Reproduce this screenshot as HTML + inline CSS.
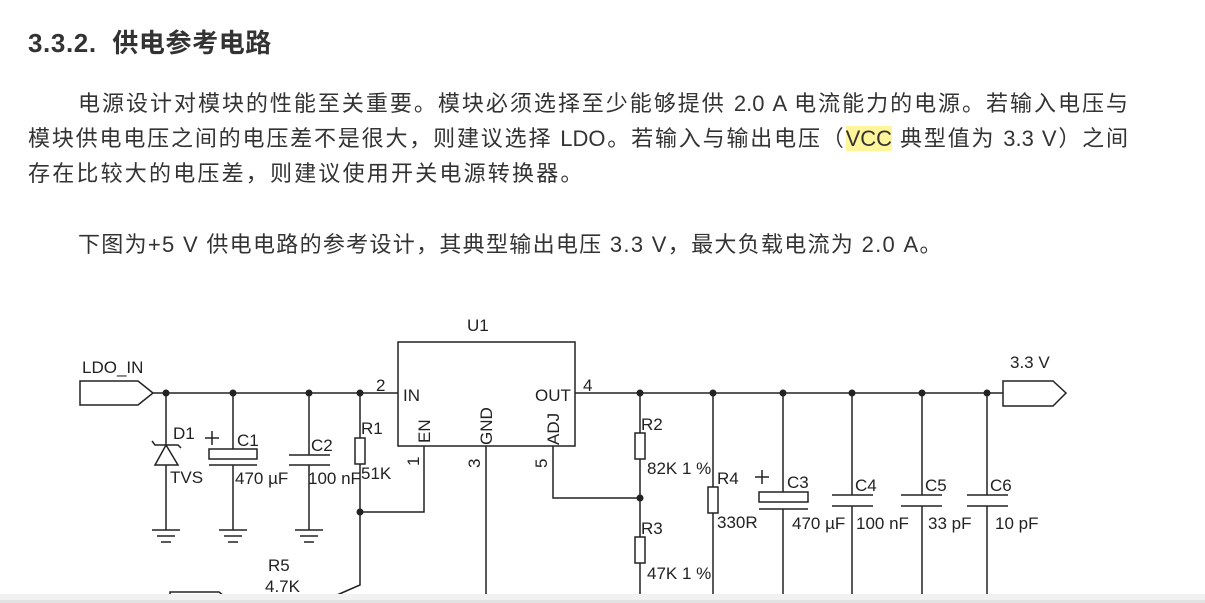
<!DOCTYPE html>
<html><head><meta charset="utf-8"><style>
html,body{margin:0;padding:0;background:#fff;width:1205px;height:603px;overflow:hidden;position:relative}
.t{position:absolute;font-family:"Liberation Sans","Noto Sans CJK SC",sans-serif;color:#333;white-space:nowrap}
.p{font-size:22px;line-height:26px}
.j{text-align:justify;text-align-last:justify;white-space:normal}
.hl{background:#fff59a}
svg{position:absolute;left:0;top:0}
svg text{font-family:"Liberation Sans",sans-serif;font-size:17px;fill:#222}
</style></head><body>
<div class="t" style="left:28px;top:28px;font-size:26px;font-weight:bold;color:#333;line-height:31px;letter-spacing:0.6px">3.3.2.&nbsp;&nbsp;供电参考电路</div>
<div class="t p j" style="left:78px;top:91px;width:1050px">电源设计对模块的性能至关重要。模块必须选择至少能够提供 2.0 A 电流能力的电源。若输入电压与</div>
<div class="t p j" style="left:28px;top:126px;width:1100px">模块供电电压之间的电压差不是很大，则建议选择 LDO。若输入与输出电压（<span class="hl">VCC</span> 典型值为 3.3 V）之间</div>
<div class="t p" style="left:28px;top:161px;letter-spacing:2.2px">存在比较大的电压差，则建议使用开关电源转换器。</div>
<div class="t p" style="left:78px;top:232px;letter-spacing:1.3px">下图为+5 V 供电电路的参考设计，其典型输出电压 3.3 V，最大负载电流为 2.0 A。</div>
<svg width="1205" height="603" viewBox="0 0 1205 603">
<g stroke="#222" stroke-width="1.5" fill="none">
<path d="M80 381H138L153 393L138 405H80Z"/>
<path d="M1003 381H1053L1066 393L1053 406H1003Z"/>
<path d="M153 393H398"/>
<rect x="398" y="342" width="177" height="104"/>
<path d="M575 393H1003"/>
<path d="M166 393V530"/>
<path d="M155 465H178L166 445Z" fill="#fff"/>
<path d="M152 441L155 445H178L181 448"/>
<path d="M233 393V449M233 465V530"/>
<rect x="209" y="449" width="48" height="10"/>
<path d="M209 465H257M205 438H219M212 431V445"/>
<path d="M309 393V455M309 465V530M289 455H330M289 465H330"/>
<path d="M152 530H180M157 536H175M161 542H171"/>
<path d="M219 530H247M224 536H242M228 542H238"/>
<path d="M295 530H323M300 536H318M304 542H314"/>
<path d="M360 393V438M360 464V585L337 595"/>
<rect x="355" y="438" width="10" height="26"/>
<path d="M360 512H424V446"/>
<path d="M486 446V603"/>
<path d="M553 446V498H640"/>
<path d="M170 596V592H219L224 596"/>
<path d="M640 393V433M640 459V537M640 563V603"/>
<rect x="635" y="433" width="10" height="26"/>
<rect x="635" y="537" width="10" height="26"/>
<path d="M713 393V487M713 513V603"/>
<rect x="708" y="487" width="10" height="26"/>
<path d="M783 393V492M783 509V603"/>
<rect x="759" y="492" width="49" height="10"/>
<path d="M759 509H808M755 477H769M762 470V484"/>
<path d="M852 393V495M852 506V603M832 495H873M832 506H873"/>
<path d="M922 393V495M922 506V603M901 495H942M901 506H942"/>
<path d="M987 393V495M987 506V603M967 495H1008M967 506H1008"/>
</g>
<g fill="#222">
<circle cx="166" cy="393" r="3.5"/><circle cx="233" cy="393" r="3.5"/><circle cx="309" cy="393" r="3.5"/><circle cx="360" cy="393" r="3.5"/>
<circle cx="360" cy="512" r="3.5"/><circle cx="640" cy="498" r="3.5"/>
<circle cx="640" cy="393" r="3.5"/><circle cx="713" cy="393" r="3.5"/><circle cx="783" cy="393" r="3.5"/><circle cx="852" cy="393" r="3.5"/><circle cx="922" cy="393" r="3.5"/><circle cx="987" cy="393" r="3.5"/>
</g>
<text x="82" y="373">LDO_IN</text>
<text x="1010" y="368">3.3 V</text>
<text x="467" y="331">U1</text>
<text x="376" y="391">2</text>
<text x="403" y="401">IN</text>
<text x="535" y="401">OUT</text>
<text x="583" y="391">4</text>
<text transform="translate(430,443) rotate(-90)">EN</text>
<text transform="translate(492,445) rotate(-90)">GND</text>
<text transform="translate(559,445) rotate(-90)">ADJ</text>
<text transform="translate(419,466) rotate(-90)">1</text>
<text transform="translate(480,468) rotate(-90)">3</text>
<text transform="translate(547,468) rotate(-90)">5</text>
<text x="173" y="439">D1</text>
<text x="170" y="483">TVS</text>
<text x="237" y="446">C1</text>
<text x="235" y="484">470 µF</text>
<text x="311" y="451">C2</text>
<text x="308" y="484">100 nF</text>
<text x="361" y="434">R1</text>
<text x="361" y="479">51K</text>
<text x="268" y="571">R5</text>
<text x="265" y="592">4.7K</text>
<text x="641" y="430">R2</text>
<text x="647" y="474">82K 1 %</text>
<text x="641" y="534">R3</text>
<text x="647" y="579">47K 1 %</text>
<text x="717" y="484">R4</text>
<text x="717" y="528">330R</text>
<text x="787" y="488">C3</text>
<text x="792" y="529">470 µF</text>
<text x="855" y="491">C4</text>
<text x="856" y="529">100 nF</text>
<text x="925" y="491">C5</text>
<text x="928" y="529">33 pF</text>
<text x="990" y="491">C6</text>
<text x="995" y="529">10 pF</text>
<rect x="0" y="594" width="1205" height="6" fill="#f1f1f1"/>
<rect x="0" y="600" width="1205" height="3" fill="#e2e2e2"/>
</svg>
</body></html>
